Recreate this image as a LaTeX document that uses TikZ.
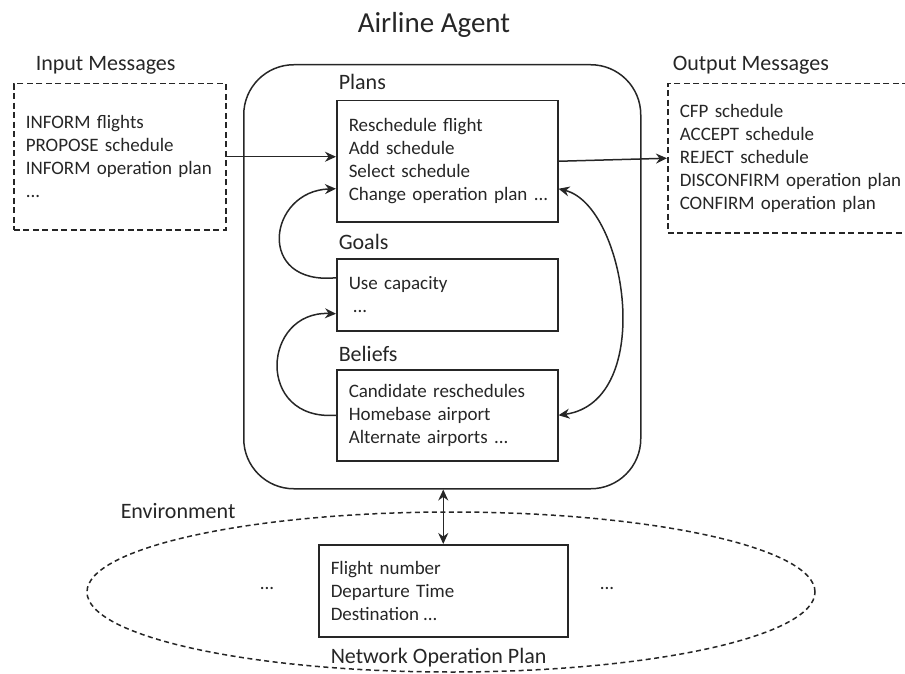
\documentclass[tikz,border=0pt]{standalone}
\usepackage{fontspec}
\setmainfont{Carlito}
\usetikzlibrary{arrows.meta,shapes.geometric}
\definecolor{ink}{HTML}{262626}
\begin{document}
\begin{tikzpicture}[x=1pt,y=-1pt,line width=1.5pt,color=ink,
  txt/.style={font=\fontsize{19}{23}\selectfont},
  lbl/.style={font=\fontsize{22}{26}\selectfont,anchor=base west,inner sep=0pt},
  ttl/.style={font=\fontsize{29}{34}\selectfont,anchor=base west,inner sep=0pt},
  box/.style={draw,txt,align=left,inner xsep=12pt,inner ysep=0pt,anchor=north west},
  dbox/.style={box,dash pattern=on 6pt off 3.5pt},
  arr/.style={-{Stealth[length=11pt,width=10pt]}},
  darr/.style={{Stealth[length=11pt,width=10pt]}-{Stealth[length=11pt,width=10pt]}}]
\useasboundingbox (0,0) rectangle (905,674);
\node[ttl] (title) at (357,33) {Airline Agent};

\node[draw,rounded corners=50pt,minimum width=397pt,minimum height=424pt,anchor=north west] (agent) at (243,64) {};
\node[lbl] (planslbl) at (338,90) {Plans};
\node[box,minimum width=221pt,minimum height=121pt,text width=197pt] (plans) at (336,100)
  {Reschedule flight\\Add schedule\\Select schedule\\\mbox{Change operation plan ...}};
\node[lbl] (goalslbl) at (338,249) {Goals};
\node[box,minimum width=221pt,minimum height=72pt,text width=197pt] (goals) at (336,258)
  {Use capacity\\\hspace{4pt}...};
\node[lbl] (beliefslbl) at (338,361) {Beliefs};
\node[box,minimum width=221pt,minimum height=91pt,text width=197pt] (beliefs) at (336,369)
  {Candidate reschedules\\Homebase airport\\Alternate airports ...};

\node[lbl] (inlbl) at (35,71) {Input Messages};
\node[dbox,minimum width=212pt,minimum height=146pt,text width=188pt] (inbox) at (13,83)
  {INFORM flights\\PROPOSE schedule\\INFORM operation plan\\...};
\node[lbl] (outlbl) at (672,71) {Output Messages};
\node[dbox,minimum width=250pt,minimum height=149pt,text width=226pt] (outbox) at (667,83)
  {CFP schedule\\ACCEPT schedule\\REJECT schedule\\DISCONFIRM operation plan\\CONFIRM operation plan};

\node[lbl] (envlbl) at (120,518) {Environment};
\node[draw,ellipse,dash pattern=on 5pt off 3.5pt,minimum width=728pt,minimum height=160pt,inner sep=0pt] (env) at (451,592) {};
\node[box,minimum width=249pt,minimum height=92pt,text width=225pt] (net) at (318,544)
  {Flight number\\Departure Time\\Destination\hspace{4pt}...};
\node[txt] (ldots) at (267,588) {...};
\node[txt] (rdots) at (607,588) {...};
\node[lbl] (netlbl) at (330,663) {Network Operation Plan};

\draw[arr] (inbox.east) -- (plans.west |- inbox.east);
\draw[arr] (plans.east) -- (outbox.west);
\draw[arr] ([yshift=17pt]goals.west) .. controls +(-81,8) and +(-68,2) .. ([yshift=-27.5pt]plans.west);
\draw[arr] (beliefs.west) .. controls +(-81,6) and +(-74,-3) .. ([yshift=-19pt]goals.west);
\draw[darr] ([yshift=-27.5pt]plans.east) .. controls +(68,17) and +(98,-14) .. (beliefs.east);
\draw[darr] (agent.south -| net.north) -- (net.north);
\end{tikzpicture}
\end{document}
